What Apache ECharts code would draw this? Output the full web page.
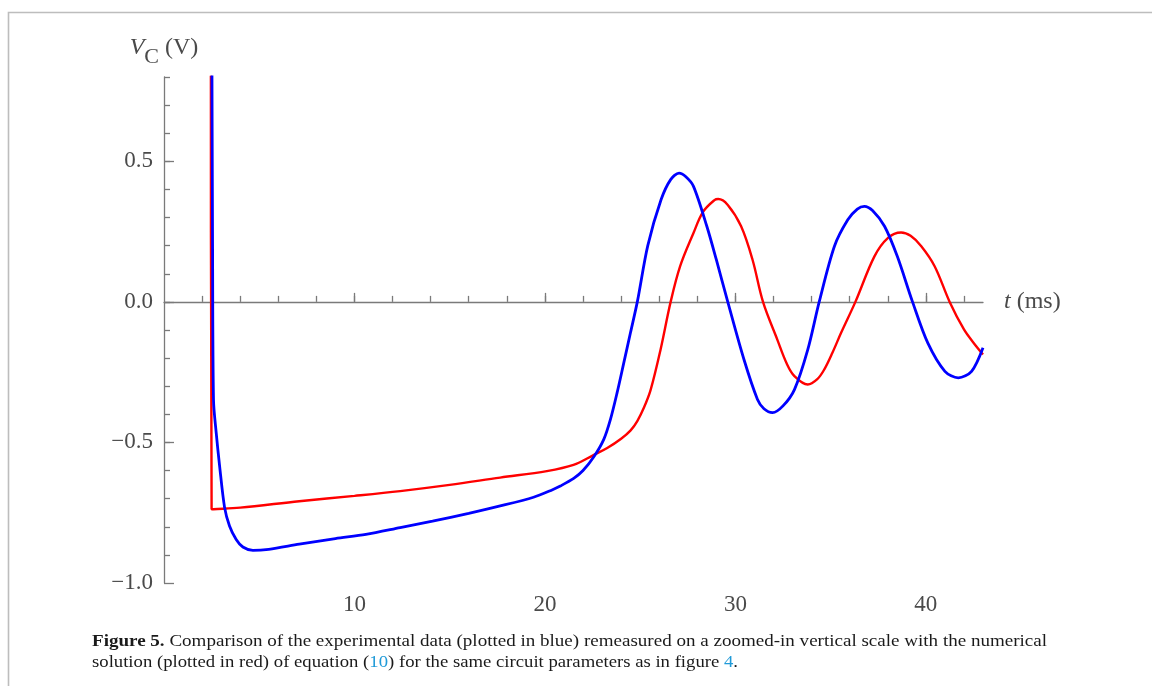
<!DOCTYPE html>
<html>
<head>
<meta charset="utf-8">
<script src="https://cdn.jsdelivr.net/npm/echarts@6/dist/echarts.min.js"></script>
<style>
html,body{margin:0;padding:0;background:#fff;}
#chart{width:1152px;height:686px;}
</style>
</head>
<body>
<div id="chart"></div>
<script>
// ---- data ----
const redT = [2.46, 2.5, 2.6, 4, 7.1, 10, 12.4, 15, 17.65, 20.1, 21.5, 22.55, 23.27, 24.0, 24.5, 24.85, 25.2, 25.55, 26.07, 26.6, 27.1, 27.8, 28.3, 28.9, 29.1, 29.6, 30.3, 30.9, 31.45, 32.2, 32.7, 33.1, 33.8, 34.3, 34.67, 35.1, 35.55, 36.3, 37.3, 38.0, 38.7, 39.2, 39.76, 40.46, 41.25, 42.0, 42.5, 43.0];
const redV = [1.2, -0.738, -0.7375, -0.732, -0.709, -0.69, -0.673, -0.651, -0.625, -0.602, -0.58, -0.545, -0.52, -0.487, -0.457, -0.424, -0.376, -0.313, -0.17, 0.0, 0.127, 0.245, 0.32, 0.362, 0.366, 0.345, 0.269, 0.15, 0.0, -0.134, -0.22, -0.264, -0.294, -0.275, -0.24, -0.18, -0.11, 0.0, 0.162, 0.227, 0.247, 0.235, 0.198, 0.127, 0.0, -0.098, -0.145, -0.187];

const blueT = [2.5, 2.55, 2.6, 2.74, 2.92, 3.18, 3.44, 3.79, 4.14, 4.67, 5.5, 7.1, 9, 10.6, 12.4, 14.1, 16, 17.65, 19.4, 20.4, 20.81, 21.51, 22.0, 22.56, 23.09, 23.44, 23.79, 24.14, 24.49, 24.85, 25.4, 26.1, 26.6, 27.04, 27.4, 27.8, 28.5, 29.0, 29.6, 30.45, 31.16, 31.5, 31.95, 32.5, 33.1, 33.8, 34.4, 35.2, 35.9, 36.4, 36.77, 37.2, 37.83, 38.5, 39.3, 40.1, 41.0, 41.7, 42.4, 43.0];
const blueV = [1.2, 0.2, -0.35, -0.465, -0.584, -0.731, -0.797, -0.845, -0.872, -0.884, -0.88, -0.862, -0.842, -0.827, -0.803, -0.78, -0.752, -0.726, -0.695, -0.668, -0.655, -0.628, -0.6, -0.552, -0.489, -0.418, -0.323, -0.217, -0.11, 0.0, 0.2, 0.364, 0.435, 0.458, 0.445, 0.411, 0.269, 0.15, 0.0, -0.205, -0.347, -0.38, -0.394, -0.37, -0.312, -0.17, 0.0, 0.198, 0.292, 0.33, 0.34, 0.325, 0.269, 0.162, 0.0, -0.146, -0.247, -0.27, -0.247, -0.163];

const xLabelTicks = [10, 20, 30, 40];
const xMinorTicks = [2, 4, 6, 8, 10, 12, 14, 16, 18, 20, 22, 24, 26, 28, 30, 32, 34, 36, 38, 40, 42];
const yLabelTicks = [-1.0, -0.5, 0.0, 0.5];
const yMinorTicks = [-0.9, -0.8, -0.7, -0.6, -0.5, -0.4, -0.3, -0.2, -0.1, 0.0, 0.1, 0.2, 0.3, 0.4, 0.5, 0.6, 0.7, 0.8];

const captionLine1 = '{b|Figure 5.} Comparison of the experimental data (plotted in blue) remeasured on a zoomed-in vertical scale with the numerical';
const captionLine2 = 'solution (plotted in red) of equation ({l|10}) for the same circuit parameters as in figure {l|4}.';

// ---- build ----
const zip = (a, b) => a.map((x, i) => [x, b[i]]);
const SERIF = "'Liberation Serif', 'Times New Roman', serif";
const AX = '#7a7a7a';
const LBL = '#4a4a4a';

const chart = echarts.init(document.getElementById('chart'), null, {renderer: 'canvas'});
chart.setOption({
  animation: false,
  backgroundColor: '#ffffff',
  grid: {left: 164, right: 169, top: 77, bottom: 103, outerBoundsMode: 'none'},
  xAxis: [{
    type: 'value', min: 0, max: 43, interval: 10,
    axisLine: {show: true, onZero: true, lineStyle: {color: AX, width: 1.3}},
    axisTick: {show: true, inside: true, length: 9, customValues: xLabelTicks, lineStyle: {color: AX, width: 1.3}},
    axisLabel: {customValues: xLabelTicks, margin: 10, fontFamily: SERIF, fontSize: 23, color: LBL},
    splitLine: {show: false},
    name: '{t|t}{p| (ms)}', nameLocation: 'end', nameGap: 21,
    nameTextStyle: {rich: {
      t: {fontFamily: SERIF, fontSize: 24, fontStyle: 'italic', color: LBL},
      p: {fontFamily: SERIF, fontSize: 24, color: LBL}
    }}
  }, {
    type: 'value', min: 0, max: 43, interval: 2, position: 'bottom',
    axisLine: {show: false, onZero: true},
    axisTick: {show: true, inside: true, length: 6, customValues: xMinorTicks, lineStyle: {color: AX, width: 1.3}},
    axisLabel: {show: false},
    splitLine: {show: false}
  }],
  yAxis: [{
    type: 'value', min: -1.0, max: 0.8, interval: 0.5,
    axisLine: {show: true, onZero: false, lineStyle: {color: AX, width: 1.3}},
    axisTick: {show: true, inside: true, length: 10, customValues: yLabelTicks, lineStyle: {color: AX, width: 1.3}},
    axisLabel: {customValues: yLabelTicks, margin: 11, fontFamily: SERIF, fontSize: 23, color: LBL,
      formatter: v => (v < 0 ? '\u2212' : '') + Math.abs(v).toFixed(1)},
    splitLine: {show: false},
    name: '{v|V}{c|C}{p| (V)}', nameLocation: 'end', nameGap: 9,
    nameTextStyle: {rich: {
      v: {fontFamily: SERIF, fontSize: 24, fontStyle: 'italic', color: LBL},
      c: {fontFamily: SERIF, fontSize: 22, color: LBL, padding: [18, 0, 0, 0]},
      p: {fontFamily: SERIF, fontSize: 24, color: LBL}
    }}
  }, {
    type: 'value', min: -1.0, max: 0.8, interval: 0.1, position: 'left',
    axisLine: {show: false, onZero: false},
    axisTick: {show: true, inside: true, length: 6, customValues: yMinorTicks, lineStyle: {color: AX, width: 1.3}},
    axisLabel: {show: false},
    splitLine: {show: false}
  }],
  series: [{
    type: 'line', name: 'numerical', xAxisIndex: 0, yAxisIndex: 0,
    data: zip(redT, redV), showSymbol: false, smooth: 0.35,
    lineStyle: {color: '#ff0000', width: 2.4}, clip: true, z: 2
  }, {
    type: 'line', name: 'experimental', xAxisIndex: 0, yAxisIndex: 0,
    data: zip(blueT, blueV), showSymbol: false, smooth: 0.3,
    lineStyle: {color: '#0000ff', width: 2.8}, clip: true, z: 3
  }],
  graphic: [{
    type: 'polyline', silent: true,
    shape: {points: [[8.5, 686], [8.5, 12.5], [1152, 12.5]]},
    style: {stroke: '#bdbdbd', lineWidth: 1.6, fill: null}
  }, {
    type: 'text', x: 92, y: 642, scaleX: 1.12,
    style: {text: captionLine1, fontFamily: SERIF, fontSize: 17, fill: '#1a1a1a', verticalAlign: 'middle',
      rich: {b: {fontFamily: SERIF, fontSize: 17, fontWeight: 'bold', fill: '#1a1a1a'}}}
  }, {
    type: 'text', x: 92, y: 663, scaleX: 1.1,
    style: {text: captionLine2, fontFamily: SERIF, fontSize: 17, fill: '#1a1a1a', verticalAlign: 'middle',
      rich: {l: {fontFamily: SERIF, fontSize: 17, fill: '#1f9ad8'}}}
  }]
});
</script>
</body>
</html>
